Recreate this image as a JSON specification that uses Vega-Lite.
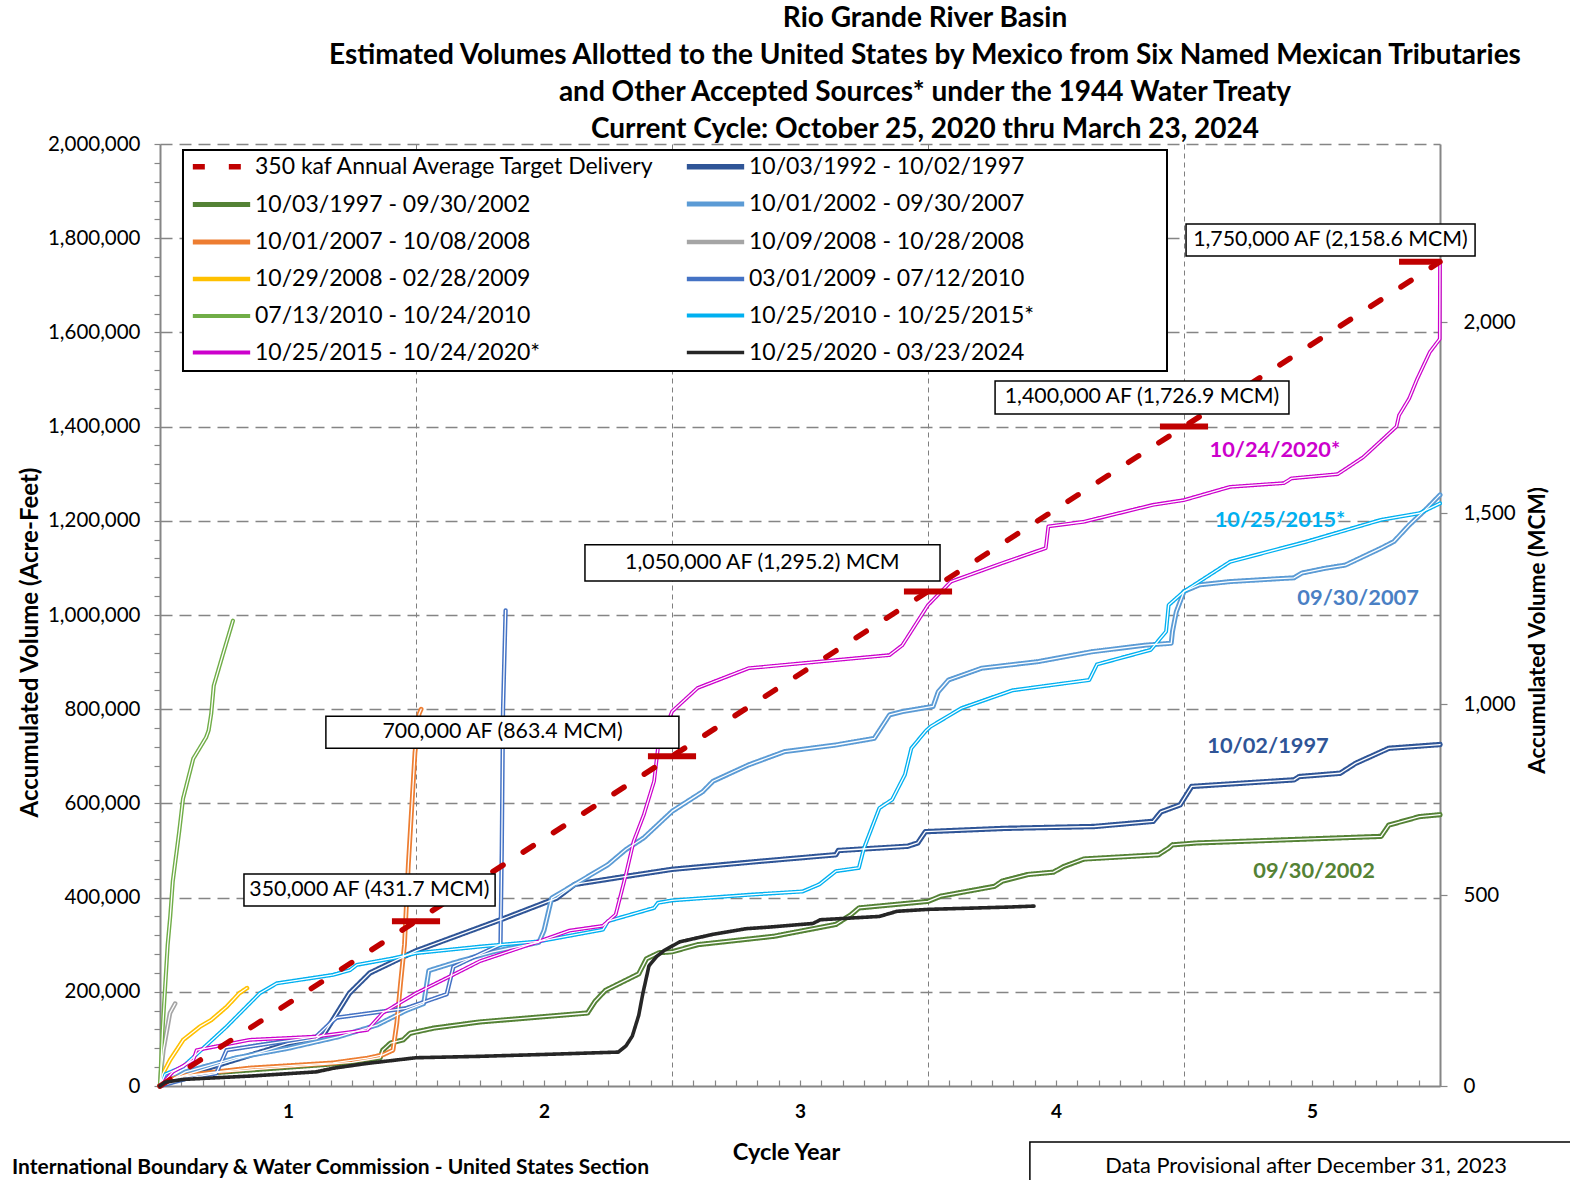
{
  "$schema": "https://vega.github.io/schema/vega-lite/v6.json",
  "width": 1280,
  "height": 942,
  "autosize": {"type": "none"},
  "padding": {"left": 160, "top": 144, "right": 130, "bottom": 94},
  "background": "white",
  "config": {
    "font": "Lato",
    "view": {"stroke": null},
    "legend": {
      "orient": "none", "legendX": 40, "legendY": 1, "direction": "horizontal", "columns": 2,
      "columnPadding": 20, "rowPadding": 4, "symbolType": "M-1.55,0H1.55", "symbolSize": 1369,
      "labelFontSize": 23, "labelColor": "#000", "labelFont": "Lato", "labelOffset": 12, "labelLimit": 600,
      "title": null, "padding": 0, "gridAlign": "each"
    }
  },
  "title": {
    "text": ["Rio Grande River Basin", "Estimated Volumes Allotted to the United States by Mexico from Six Named Mexican Tributaries", "and Other Accepted Sources* under the 1944 Water Treaty", "Current Cycle: October 25, 2020 thru March 23, 2024"],
    "fontSize": 28, "font": "Lato", "fontWeight": "bold", "color": "#000", "anchor": "middle", "dx": 125, "dy": 10, "lineHeight": 37, "offset": 0
  },
  "datasets": {
    "lines": [
      {"series": "350 kaf Annual Average Target Delivery", "year": 0, "af": 0},
      {"series": "350 kaf Annual Average Target Delivery", "year": 5, "af": 1750000},

      {"series": "10/03/1992 - 10/02/1997", "year": 0, "af": 0},
      {"series": "10/03/1992 - 10/02/1997", "year": 0.05, "af": 15000},
      {"series": "10/03/1992 - 10/02/1997", "year": 0.2, "af": 40000},
      {"series": "10/03/1992 - 10/02/1997", "year": 0.35, "af": 65000},
      {"series": "10/03/1992 - 10/02/1997", "year": 0.5, "af": 90000},
      {"series": "10/03/1992 - 10/02/1997", "year": 0.61, "af": 100000},
      {"series": "10/03/1992 - 10/02/1997", "year": 0.64, "af": 110000},
      {"series": "10/03/1992 - 10/02/1997", "year": 0.74, "af": 197000},
      {"series": "10/03/1992 - 10/02/1997", "year": 0.82, "af": 240000},
      {"series": "10/03/1992 - 10/02/1997", "year": 0.9, "af": 261000},
      {"series": "10/03/1992 - 10/02/1997", "year": 1.0, "af": 287000},
      {"series": "10/03/1992 - 10/02/1997", "year": 1.34, "af": 355000},
      {"series": "10/03/1992 - 10/02/1997", "year": 1.55, "af": 399000},
      {"series": "10/03/1992 - 10/02/1997", "year": 1.62, "af": 428000},
      {"series": "10/03/1992 - 10/02/1997", "year": 1.82, "af": 445000},
      {"series": "10/03/1992 - 10/02/1997", "year": 2.0, "af": 460000},
      {"series": "10/03/1992 - 10/02/1997", "year": 2.3, "af": 475000},
      {"series": "10/03/1992 - 10/02/1997", "year": 2.64, "af": 491000},
      {"series": "10/03/1992 - 10/02/1997", "year": 2.65, "af": 500000},
      {"series": "10/03/1992 - 10/02/1997", "year": 2.92, "af": 509000},
      {"series": "10/03/1992 - 10/02/1997", "year": 2.96, "af": 516000},
      {"series": "10/03/1992 - 10/02/1997", "year": 2.99, "af": 540000},
      {"series": "10/03/1992 - 10/02/1997", "year": 3.3, "af": 547000},
      {"series": "10/03/1992 - 10/02/1997", "year": 3.65, "af": 551000},
      {"series": "10/03/1992 - 10/02/1997", "year": 3.88, "af": 562000},
      {"series": "10/03/1992 - 10/02/1997", "year": 3.91, "af": 582000},
      {"series": "10/03/1992 - 10/02/1997", "year": 3.985, "af": 597000},
      {"series": "10/03/1992 - 10/02/1997", "year": 4.03, "af": 636000},
      {"series": "10/03/1992 - 10/02/1997", "year": 4.43, "af": 650000},
      {"series": "10/03/1992 - 10/02/1997", "year": 4.45, "af": 657000},
      {"series": "10/03/1992 - 10/02/1997", "year": 4.61, "af": 664000},
      {"series": "10/03/1992 - 10/02/1997", "year": 4.67, "af": 685000},
      {"series": "10/03/1992 - 10/02/1997", "year": 4.8, "af": 717000},
      {"series": "10/03/1992 - 10/02/1997", "year": 5.0, "af": 725000},

      {"series": "10/03/1997 - 09/30/2002", "year": 0, "af": 0},
      {"series": "10/03/1997 - 09/30/2002", "year": 0.05, "af": 15000},
      {"series": "10/03/1997 - 09/30/2002", "year": 0.2, "af": 28000},
      {"series": "10/03/1997 - 09/30/2002", "year": 0.5, "af": 40000},
      {"series": "10/03/1997 - 09/30/2002", "year": 0.75, "af": 50000},
      {"series": "10/03/1997 - 09/30/2002", "year": 0.86, "af": 60000},
      {"series": "10/03/1997 - 09/30/2002", "year": 0.87, "af": 76000},
      {"series": "10/03/1997 - 09/30/2002", "year": 0.9, "af": 91000},
      {"series": "10/03/1997 - 09/30/2002", "year": 0.95, "af": 98000},
      {"series": "10/03/1997 - 09/30/2002", "year": 0.977, "af": 112000},
      {"series": "10/03/1997 - 09/30/2002", "year": 1.07, "af": 123000},
      {"series": "10/03/1997 - 09/30/2002", "year": 1.25, "af": 136000},
      {"series": "10/03/1997 - 09/30/2002", "year": 1.67, "af": 155000},
      {"series": "10/03/1997 - 09/30/2002", "year": 1.7, "af": 180000},
      {"series": "10/03/1997 - 09/30/2002", "year": 1.74, "af": 203000},
      {"series": "10/03/1997 - 09/30/2002", "year": 1.87, "af": 238000},
      {"series": "10/03/1997 - 09/30/2002", "year": 1.9, "af": 270000},
      {"series": "10/03/1997 - 09/30/2002", "year": 1.95, "af": 283000},
      {"series": "10/03/1997 - 09/30/2002", "year": 2.0, "af": 285000},
      {"series": "10/03/1997 - 09/30/2002", "year": 2.1, "af": 300000},
      {"series": "10/03/1997 - 09/30/2002", "year": 2.4, "af": 318000},
      {"series": "10/03/1997 - 09/30/2002", "year": 2.64, "af": 343000},
      {"series": "10/03/1997 - 09/30/2002", "year": 2.7, "af": 364000},
      {"series": "10/03/1997 - 09/30/2002", "year": 2.73, "af": 378000},
      {"series": "10/03/1997 - 09/30/2002", "year": 3.0, "af": 392000},
      {"series": "10/03/1997 - 09/30/2002", "year": 3.05, "af": 403000},
      {"series": "10/03/1997 - 09/30/2002", "year": 3.26, "af": 424000},
      {"series": "10/03/1997 - 09/30/2002", "year": 3.29, "af": 435000},
      {"series": "10/03/1997 - 09/30/2002", "year": 3.39, "af": 449000},
      {"series": "10/03/1997 - 09/30/2002", "year": 3.49, "af": 454000},
      {"series": "10/03/1997 - 09/30/2002", "year": 3.53, "af": 466000},
      {"series": "10/03/1997 - 09/30/2002", "year": 3.61, "af": 482000},
      {"series": "10/03/1997 - 09/30/2002", "year": 3.9, "af": 491000},
      {"series": "10/03/1997 - 09/30/2002", "year": 3.94, "af": 505000},
      {"series": "10/03/1997 - 09/30/2002", "year": 3.955, "af": 512000},
      {"series": "10/03/1997 - 09/30/2002", "year": 4.05, "af": 516000},
      {"series": "10/03/1997 - 09/30/2002", "year": 4.77, "af": 530000},
      {"series": "10/03/1997 - 09/30/2002", "year": 4.8, "af": 554000},
      {"series": "10/03/1997 - 09/30/2002", "year": 4.92, "af": 572000},
      {"series": "10/03/1997 - 09/30/2002", "year": 5.0, "af": 576000},

      {"series": "10/01/2002 - 09/30/2007", "year": 0, "af": 0},
      {"series": "10/01/2002 - 09/30/2007", "year": 0.1, "af": 30000},
      {"series": "10/01/2002 - 09/30/2007", "year": 0.3, "af": 60000},
      {"series": "10/01/2002 - 09/30/2007", "year": 0.5, "af": 80000},
      {"series": "10/01/2002 - 09/30/2007", "year": 0.7, "af": 105000},
      {"series": "10/01/2002 - 09/30/2007", "year": 0.85, "af": 130000},
      {"series": "10/01/2002 - 09/30/2007", "year": 0.96, "af": 160000},
      {"series": "10/01/2002 - 09/30/2007", "year": 1.03, "af": 175000},
      {"series": "10/01/2002 - 09/30/2007", "year": 1.05, "af": 245000},
      {"series": "10/01/2002 - 09/30/2007", "year": 1.15, "af": 262000},
      {"series": "10/01/2002 - 09/30/2007", "year": 1.3, "af": 285000},
      {"series": "10/01/2002 - 09/30/2007", "year": 1.48, "af": 305000},
      {"series": "10/01/2002 - 09/30/2007", "year": 1.5, "af": 330000},
      {"series": "10/01/2002 - 09/30/2007", "year": 1.53, "af": 399000},
      {"series": "10/01/2002 - 09/30/2007", "year": 1.62, "af": 428000},
      {"series": "10/01/2002 - 09/30/2007", "year": 1.75, "af": 470000},
      {"series": "10/01/2002 - 09/30/2007", "year": 1.82, "af": 502000},
      {"series": "10/01/2002 - 09/30/2007", "year": 1.89, "af": 527000},
      {"series": "10/01/2002 - 09/30/2007", "year": 2.0, "af": 583000},
      {"series": "10/01/2002 - 09/30/2007", "year": 2.12, "af": 625000},
      {"series": "10/01/2002 - 09/30/2007", "year": 2.16, "af": 647000},
      {"series": "10/01/2002 - 09/30/2007", "year": 2.3, "af": 682000},
      {"series": "10/01/2002 - 09/30/2007", "year": 2.44, "af": 710000},
      {"series": "10/01/2002 - 09/30/2007", "year": 2.64, "af": 724000},
      {"series": "10/01/2002 - 09/30/2007", "year": 2.79, "af": 738000},
      {"series": "10/01/2002 - 09/30/2007", "year": 2.85, "af": 788000},
      {"series": "10/01/2002 - 09/30/2007", "year": 2.9, "af": 795000},
      {"series": "10/01/2002 - 09/30/2007", "year": 3.02, "af": 806000},
      {"series": "10/01/2002 - 09/30/2007", "year": 3.04, "af": 837000},
      {"series": "10/01/2002 - 09/30/2007", "year": 3.08, "af": 862000},
      {"series": "10/01/2002 - 09/30/2007", "year": 3.21, "af": 887000},
      {"series": "10/01/2002 - 09/30/2007", "year": 3.43, "af": 901000},
      {"series": "10/01/2002 - 09/30/2007", "year": 3.64, "af": 922000},
      {"series": "10/01/2002 - 09/30/2007", "year": 3.85, "af": 936000},
      {"series": "10/01/2002 - 09/30/2007", "year": 3.95, "af": 940000},
      {"series": "10/01/2002 - 09/30/2007", "year": 3.955, "af": 965000},
      {"series": "10/01/2002 - 09/30/2007", "year": 3.97, "af": 1007000},
      {"series": "10/01/2002 - 09/30/2007", "year": 4.0, "af": 1050000},
      {"series": "10/01/2002 - 09/30/2007", "year": 4.06, "af": 1064000},
      {"series": "10/01/2002 - 09/30/2007", "year": 4.18, "af": 1071000},
      {"series": "10/01/2002 - 09/30/2007", "year": 4.43, "af": 1079000},
      {"series": "10/01/2002 - 09/30/2007", "year": 4.46, "af": 1089000},
      {"series": "10/01/2002 - 09/30/2007", "year": 4.55, "af": 1099000},
      {"series": "10/01/2002 - 09/30/2007", "year": 4.63, "af": 1106000},
      {"series": "10/01/2002 - 09/30/2007", "year": 4.7, "af": 1124000},
      {"series": "10/01/2002 - 09/30/2007", "year": 4.77, "af": 1142000},
      {"series": "10/01/2002 - 09/30/2007", "year": 4.82, "af": 1156000},
      {"series": "10/01/2002 - 09/30/2007", "year": 4.88, "af": 1191000},
      {"series": "10/01/2002 - 09/30/2007", "year": 4.95, "af": 1227000},
      {"series": "10/01/2002 - 09/30/2007", "year": 5.0, "af": 1255000},

      {"series": "10/01/2007 - 10/08/2008", "year": 0, "af": 0},
      {"series": "10/01/2007 - 10/08/2008", "year": 0.03, "af": 12000},
      {"series": "10/01/2007 - 10/08/2008", "year": 0.1, "af": 22000},
      {"series": "10/01/2007 - 10/08/2008", "year": 0.22, "af": 30000},
      {"series": "10/01/2007 - 10/08/2008", "year": 0.35, "af": 38000},
      {"series": "10/01/2007 - 10/08/2008", "year": 0.676, "af": 49000},
      {"series": "10/01/2007 - 10/08/2008", "year": 0.81, "af": 59000},
      {"series": "10/01/2007 - 10/08/2008", "year": 0.87, "af": 66000},
      {"series": "10/01/2007 - 10/08/2008", "year": 0.91, "af": 76000},
      {"series": "10/01/2007 - 10/08/2008", "year": 0.925, "af": 133000},
      {"series": "10/01/2007 - 10/08/2008", "year": 0.94, "af": 220000},
      {"series": "10/01/2007 - 10/08/2008", "year": 0.955, "af": 300000},
      {"series": "10/01/2007 - 10/08/2008", "year": 0.97, "af": 469000},
      {"series": "10/01/2007 - 10/08/2008", "year": 0.996, "af": 708000},
      {"series": "10/01/2007 - 10/08/2008", "year": 1.012, "af": 790000},
      {"series": "10/01/2007 - 10/08/2008", "year": 1.02, "af": 800000},

      {"series": "10/09/2008 - 10/28/2008", "year": 0, "af": 0},
      {"series": "10/09/2008 - 10/28/2008", "year": 0.006, "af": 40000},
      {"series": "10/09/2008 - 10/28/2008", "year": 0.013, "af": 76000},
      {"series": "10/09/2008 - 10/28/2008", "year": 0.039, "af": 155000},
      {"series": "10/09/2008 - 10/28/2008", "year": 0.059, "af": 175000},

      {"series": "10/29/2008 - 02/28/2009", "year": 0, "af": 0},
      {"series": "10/29/2008 - 02/28/2009", "year": 0.01, "af": 25000},
      {"series": "10/29/2008 - 02/28/2009", "year": 0.039, "af": 55000},
      {"series": "10/29/2008 - 02/28/2009", "year": 0.091, "af": 98000},
      {"series": "10/29/2008 - 02/28/2009", "year": 0.156, "af": 126000},
      {"series": "10/29/2008 - 02/28/2009", "year": 0.2, "af": 140000},
      {"series": "10/29/2008 - 02/28/2009", "year": 0.26, "af": 168000},
      {"series": "10/29/2008 - 02/28/2009", "year": 0.31, "af": 197000},
      {"series": "10/29/2008 - 02/28/2009", "year": 0.34, "af": 208000},

      {"series": "03/01/2009 - 07/12/2010", "year": 0, "af": 0},
      {"series": "03/01/2009 - 07/12/2010", "year": 0.1, "af": 15000},
      {"series": "03/01/2009 - 07/12/2010", "year": 0.22, "af": 27000},
      {"series": "03/01/2009 - 07/12/2010", "year": 0.26, "af": 76000},
      {"series": "03/01/2009 - 07/12/2010", "year": 0.4, "af": 88000},
      {"series": "03/01/2009 - 07/12/2010", "year": 0.61, "af": 105000},
      {"series": "03/01/2009 - 07/12/2010", "year": 0.664, "af": 133000},
      {"series": "03/01/2009 - 07/12/2010", "year": 0.69, "af": 145000},
      {"series": "03/01/2009 - 07/12/2010", "year": 0.96, "af": 165000},
      {"series": "03/01/2009 - 07/12/2010", "year": 1.12, "af": 195000},
      {"series": "03/01/2009 - 07/12/2010", "year": 1.146, "af": 253000},
      {"series": "03/01/2009 - 07/12/2010", "year": 1.25, "af": 280000},
      {"series": "03/01/2009 - 07/12/2010", "year": 1.33, "af": 300000},
      {"series": "03/01/2009 - 07/12/2010", "year": 1.335, "af": 500000},
      {"series": "03/01/2009 - 07/12/2010", "year": 1.34, "af": 800000},
      {"series": "03/01/2009 - 07/12/2010", "year": 1.35, "af": 1010000},

      {"series": "07/13/2010 - 10/24/2010", "year": 0, "af": 0},
      {"series": "07/13/2010 - 10/24/2010", "year": 0.01, "af": 120000},
      {"series": "07/13/2010 - 10/24/2010", "year": 0.02, "af": 210000},
      {"series": "07/13/2010 - 10/24/2010", "year": 0.03, "af": 300000},
      {"series": "07/13/2010 - 10/24/2010", "year": 0.04, "af": 360000},
      {"series": "07/13/2010 - 10/24/2010", "year": 0.05, "af": 435000},
      {"series": "07/13/2010 - 10/24/2010", "year": 0.075, "af": 540000},
      {"series": "07/13/2010 - 10/24/2010", "year": 0.09, "af": 610000},
      {"series": "07/13/2010 - 10/24/2010", "year": 0.13, "af": 695000},
      {"series": "07/13/2010 - 10/24/2010", "year": 0.18, "af": 740000},
      {"series": "07/13/2010 - 10/24/2010", "year": 0.19, "af": 755000},
      {"series": "07/13/2010 - 10/24/2010", "year": 0.2, "af": 790000},
      {"series": "07/13/2010 - 10/24/2010", "year": 0.21, "af": 850000},
      {"series": "07/13/2010 - 10/24/2010", "year": 0.245, "af": 915000},
      {"series": "07/13/2010 - 10/24/2010", "year": 0.285, "af": 988000},

      {"series": "10/25/2010 - 10/25/2015*", "year": 0, "af": 0},
      {"series": "10/25/2010 - 10/25/2015*", "year": 0.02, "af": 25000},
      {"series": "10/25/2010 - 10/25/2015*", "year": 0.09, "af": 41000},
      {"series": "10/25/2010 - 10/25/2015*", "year": 0.26, "af": 126000},
      {"series": "10/25/2010 - 10/25/2015*", "year": 0.39, "af": 197000},
      {"series": "10/25/2010 - 10/25/2015*", "year": 0.456, "af": 218000},
      {"series": "10/25/2010 - 10/25/2015*", "year": 0.676, "af": 236000},
      {"series": "10/25/2010 - 10/25/2015*", "year": 0.742, "af": 246000},
      {"series": "10/25/2010 - 10/25/2015*", "year": 0.768, "af": 257000},
      {"series": "10/25/2010 - 10/25/2015*", "year": 0.91, "af": 271000},
      {"series": "10/25/2010 - 10/25/2015*", "year": 1.0, "af": 282000},
      {"series": "10/25/2010 - 10/25/2015*", "year": 1.25, "af": 296000},
      {"series": "10/25/2010 - 10/25/2015*", "year": 1.48, "af": 307000},
      {"series": "10/25/2010 - 10/25/2015*", "year": 1.73, "af": 332000},
      {"series": "10/25/2010 - 10/25/2015*", "year": 1.75, "af": 350000},
      {"series": "10/25/2010 - 10/25/2015*", "year": 1.93, "af": 378000},
      {"series": "10/25/2010 - 10/25/2015*", "year": 1.945, "af": 389000},
      {"series": "10/25/2010 - 10/25/2015*", "year": 2.0, "af": 394000},
      {"series": "10/25/2010 - 10/25/2015*", "year": 2.3, "af": 406000},
      {"series": "10/25/2010 - 10/25/2015*", "year": 2.51, "af": 413000},
      {"series": "10/25/2010 - 10/25/2015*", "year": 2.575, "af": 428000},
      {"series": "10/25/2010 - 10/25/2015*", "year": 2.64, "af": 456000},
      {"series": "10/25/2010 - 10/25/2015*", "year": 2.73, "af": 463000},
      {"series": "10/25/2010 - 10/25/2015*", "year": 2.75, "af": 505000},
      {"series": "10/25/2010 - 10/25/2015*", "year": 2.81, "af": 590000},
      {"series": "10/25/2010 - 10/25/2015*", "year": 2.86, "af": 608000},
      {"series": "10/25/2010 - 10/25/2015*", "year": 2.91, "af": 661000},
      {"series": "10/25/2010 - 10/25/2015*", "year": 2.935, "af": 717000},
      {"series": "10/25/2010 - 10/25/2015*", "year": 2.99, "af": 753000},
      {"series": "10/25/2010 - 10/25/2015*", "year": 3.01, "af": 763000},
      {"series": "10/25/2010 - 10/25/2015*", "year": 3.13, "af": 802000},
      {"series": "10/25/2010 - 10/25/2015*", "year": 3.33, "af": 840000},
      {"series": "10/25/2010 - 10/25/2015*", "year": 3.63, "af": 862000},
      {"series": "10/25/2010 - 10/25/2015*", "year": 3.66, "af": 895000},
      {"series": "10/25/2010 - 10/25/2015*", "year": 3.87, "af": 926000},
      {"series": "10/25/2010 - 10/25/2015*", "year": 3.93, "af": 965000},
      {"series": "10/25/2010 - 10/25/2015*", "year": 3.94, "af": 1021000},
      {"series": "10/25/2010 - 10/25/2015*", "year": 4.0, "af": 1050000},
      {"series": "10/25/2010 - 10/25/2015*", "year": 4.18, "af": 1113000},
      {"series": "10/25/2010 - 10/25/2015*", "year": 4.48, "af": 1156000},
      {"series": "10/25/2010 - 10/25/2015*", "year": 4.77, "af": 1202000},
      {"series": "10/25/2010 - 10/25/2015*", "year": 4.92, "af": 1216000},
      {"series": "10/25/2010 - 10/25/2015*", "year": 5.0, "af": 1237000},

      {"series": "10/25/2015 - 10/24/2020*", "year": 0, "af": 0},
      {"series": "10/25/2015 - 10/24/2020*", "year": 0.05, "af": 30000},
      {"series": "10/25/2015 - 10/24/2020*", "year": 0.13, "af": 55000},
      {"series": "10/25/2015 - 10/24/2020*", "year": 0.143, "af": 76000},
      {"series": "10/25/2015 - 10/24/2020*", "year": 0.35, "af": 98000},
      {"series": "10/25/2015 - 10/24/2020*", "year": 0.61, "af": 105000},
      {"series": "10/25/2015 - 10/24/2020*", "year": 0.81, "af": 119000},
      {"series": "10/25/2015 - 10/24/2020*", "year": 0.87, "af": 155000},
      {"series": "10/25/2015 - 10/24/2020*", "year": 1.0, "af": 197000},
      {"series": "10/25/2015 - 10/24/2020*", "year": 1.13, "af": 232000},
      {"series": "10/25/2015 - 10/24/2020*", "year": 1.25, "af": 265000},
      {"series": "10/25/2015 - 10/24/2020*", "year": 1.48, "af": 307000},
      {"series": "10/25/2015 - 10/24/2020*", "year": 1.6, "af": 330000},
      {"series": "10/25/2015 - 10/24/2020*", "year": 1.73, "af": 340000},
      {"series": "10/25/2015 - 10/24/2020*", "year": 1.78, "af": 364000},
      {"series": "10/25/2015 - 10/24/2020*", "year": 1.82, "af": 449000},
      {"series": "10/25/2015 - 10/24/2020*", "year": 1.85, "af": 519000},
      {"series": "10/25/2015 - 10/24/2020*", "year": 1.89, "af": 576000},
      {"series": "10/25/2015 - 10/24/2020*", "year": 1.93, "af": 647000},
      {"series": "10/25/2015 - 10/24/2020*", "year": 1.945, "af": 717000},
      {"series": "10/25/2015 - 10/24/2020*", "year": 2.0, "af": 795000},
      {"series": "10/25/2015 - 10/24/2020*", "year": 2.1, "af": 845000},
      {"series": "10/25/2015 - 10/24/2020*", "year": 2.3, "af": 887000},
      {"series": "10/25/2015 - 10/24/2020*", "year": 2.575, "af": 901000},
      {"series": "10/25/2015 - 10/24/2020*", "year": 2.85, "af": 915000},
      {"series": "10/25/2015 - 10/24/2020*", "year": 2.9, "af": 936000},
      {"series": "10/25/2015 - 10/24/2020*", "year": 3.0, "af": 1021000},
      {"series": "10/25/2015 - 10/24/2020*", "year": 3.09, "af": 1071000},
      {"series": "10/25/2015 - 10/24/2020*", "year": 3.29, "af": 1110000},
      {"series": "10/25/2015 - 10/24/2020*", "year": 3.46, "af": 1142000},
      {"series": "10/25/2015 - 10/24/2020*", "year": 3.47, "af": 1188000},
      {"series": "10/25/2015 - 10/24/2020*", "year": 3.61, "af": 1198000},
      {"series": "10/25/2015 - 10/24/2020*", "year": 3.88, "af": 1234000},
      {"series": "10/25/2015 - 10/24/2020*", "year": 4.0, "af": 1244000},
      {"series": "10/25/2015 - 10/24/2020*", "year": 4.18, "af": 1272000},
      {"series": "10/25/2015 - 10/24/2020*", "year": 4.39, "af": 1280000},
      {"series": "10/25/2015 - 10/24/2020*", "year": 4.42, "af": 1290000},
      {"series": "10/25/2015 - 10/24/2020*", "year": 4.6, "af": 1299000},
      {"series": "10/25/2015 - 10/24/2020*", "year": 4.7, "af": 1335000},
      {"series": "10/25/2015 - 10/24/2020*", "year": 4.78, "af": 1375000},
      {"series": "10/25/2015 - 10/24/2020*", "year": 4.83, "af": 1400000},
      {"series": "10/25/2015 - 10/24/2020*", "year": 4.84, "af": 1424000},
      {"series": "10/25/2015 - 10/24/2020*", "year": 4.88, "af": 1460000},
      {"series": "10/25/2015 - 10/24/2020*", "year": 4.91, "af": 1500000},
      {"series": "10/25/2015 - 10/24/2020*", "year": 4.96, "af": 1558000},
      {"series": "10/25/2015 - 10/24/2020*", "year": 4.999, "af": 1586000},
      {"series": "10/25/2015 - 10/24/2020*", "year": 5.0, "af": 1750000},

      {"series": "10/25/2020 - 03/23/2024", "year": 0, "af": 0},
      {"series": "10/25/2020 - 03/23/2024", "year": 0.02, "af": 8000},
      {"series": "10/25/2020 - 03/23/2024", "year": 0.09, "af": 14000},
      {"series": "10/25/2020 - 03/23/2024", "year": 0.35, "af": 21000},
      {"series": "10/25/2020 - 03/23/2024", "year": 0.61, "af": 30000},
      {"series": "10/25/2020 - 03/23/2024", "year": 0.68, "af": 38000},
      {"series": "10/25/2020 - 03/23/2024", "year": 0.81, "af": 48000},
      {"series": "10/25/2020 - 03/23/2024", "year": 1.0, "af": 60000},
      {"series": "10/25/2020 - 03/23/2024", "year": 1.25, "af": 63000},
      {"series": "10/25/2020 - 03/23/2024", "year": 1.5, "af": 67000},
      {"series": "10/25/2020 - 03/23/2024", "year": 1.79, "af": 72000},
      {"series": "10/25/2020 - 03/23/2024", "year": 1.82, "af": 85000},
      {"series": "10/25/2020 - 03/23/2024", "year": 1.845, "af": 106000},
      {"series": "10/25/2020 - 03/23/2024", "year": 1.87, "af": 150000},
      {"series": "10/25/2020 - 03/23/2024", "year": 1.886, "af": 196000},
      {"series": "10/25/2020 - 03/23/2024", "year": 1.91, "af": 255000},
      {"series": "10/25/2020 - 03/23/2024", "year": 1.94, "af": 275000},
      {"series": "10/25/2020 - 03/23/2024", "year": 1.97, "af": 288000},
      {"series": "10/25/2020 - 03/23/2024", "year": 2.03, "af": 306000},
      {"series": "10/25/2020 - 03/23/2024", "year": 2.16, "af": 322000},
      {"series": "10/25/2020 - 03/23/2024", "year": 2.29, "af": 334000},
      {"series": "10/25/2020 - 03/23/2024", "year": 2.37, "af": 337000},
      {"series": "10/25/2020 - 03/23/2024", "year": 2.55, "af": 345000},
      {"series": "10/25/2020 - 03/23/2024", "year": 2.58, "af": 353000},
      {"series": "10/25/2020 - 03/23/2024", "year": 2.81, "af": 360000},
      {"series": "10/25/2020 - 03/23/2024", "year": 2.88, "af": 371000},
      {"series": "10/25/2020 - 03/23/2024", "year": 3.0, "af": 375000},
      {"series": "10/25/2020 - 03/23/2024", "year": 3.32, "af": 380000},
      {"series": "10/25/2020 - 03/23/2024", "year": 3.414, "af": 382000}
    ],
    "targets": [
      {"from": 0.906, "to": 1.094, "af": 350000},
      {"from": 1.906, "to": 2.094, "af": 700000},
      {"from": 2.906, "to": 3.094, "af": 1050000},
      {"from": 3.906, "to": 4.094, "af": 1400000},
      {"from": 4.84, "to": 5.0, "af": 1750000}
    ],
    "notes": [
      {"label": "350,000 AF (431.7 MCM)", "x1": 0.328, "x2": 1.309, "y1": 450000, "y2": 382000, "xc": 0.818, "yc": 416000},
      {"label": "700,000 AF (863.4 MCM)", "x1": 0.648, "x2": 2.027, "y1": 785000, "y2": 717000, "xc": 1.338, "yc": 751000},
      {"label": "1,050,000 AF (1,295.2) MCM", "x1": 1.66, "x2": 3.047, "y1": 1149000, "y2": 1072000, "xc": 2.353, "yc": 1110000},
      {"label": "1,400,000  AF (1,726.9 MCM)", "x1": 3.262, "x2": 4.41, "y1": 1497000, "y2": 1427000, "xc": 3.836, "yc": 1462000},
      {"label": "1,750,000 AF (2,158.6 MCM)", "x1": 4.008, "x2": 5.137, "y1": 1830000, "y2": 1762000, "xc": 4.572, "yc": 1796000}
    ],
    "endlabels": [
      {"label": "10/24/2020*", "series": "10/25/2015 - 10/24/2020*", "year": 4.355, "af": 1350000},
      {"label": "10/25/2015*", "series": "10/25/2010 - 10/25/2015*", "year": 4.375, "af": 1202000},
      {"label": "09/30/2007", "series": "10/01/2002 - 09/30/2007", "year": 4.68, "af": 1036000},
      {"label": "10/02/1997", "series": "10/03/1992 - 10/02/1997", "year": 4.328, "af": 722000},
      {"label": "09/30/2002", "series": "10/03/1997 - 09/30/2002", "year": 4.508, "af": 456000}
    ]
  },
  "layer": [
    {
      "layer": [
        {
          "data": {"name": "lines"},
          "transform": [{"filter": {"not": {"field": "series", "oneOf": ["350 kaf Annual Average Target Delivery", "10/25/2020 - 03/23/2024"]}}}],
          "mark": {"type": "line", "strokeJoin": "round", "strokeCap": "round"},
          "encoding": {
            "x": {
              "field": "year", "type": "quantitative",
              "scale": {"domain": [0, 5], "nice": false, "zero": false},
              "axis": {
                "values": [0, 0.083333, 0.166667, 0.25, 0.333333, 0.416667, 0.5, 0.583333, 0.666667, 0.75, 0.833333, 0.916667, 1, 1.083333, 1.166667, 1.25, 1.333333, 1.416667, 1.5, 1.583333, 1.666667, 1.75, 1.833333, 1.916667, 2, 2.083333, 2.166667, 2.25, 2.333333, 2.416667, 2.5, 2.583333, 2.666667, 2.75, 2.833333, 2.916667, 3, 3.083333, 3.166667, 3.25, 3.333333, 3.416667, 3.5, 3.583333, 3.666667, 3.75, 3.833333, 3.916667, 4, 4.083333, 4.166667, 4.25, 4.333333, 4.416667, 4.5, 4.583333, 4.666667, 4.75, 4.833333, 4.916667, 5],
                "tickCount": 100,
                "labelExpr": "(abs(datum.value*2 - round(datum.value*2)) < 0.001 && abs(datum.value - round(datum.value)) > 0.1) ? format(ceil(datum.value), 'd') : ''",
                "labelFontSize": 19, "labelFontWeight": "bold", "labelColor": "#000", "labelPadding": 22, "labelOverlap": false, "labelFlush": false, "labelBound": false,
                "tickSize": -6, "tickColor": "#868686", "tickWidth": 1.2,
                "domainColor": "#868686", "domainWidth": 2,
                "grid": true, "gridColor": "#7f7f7f", "gridDash": [5, 4], "gridWidth": 1,
                "gridOpacity": {"condition": {"test": "abs(datum.value - round(datum.value)) < 0.001 && datum.value > 0.5 && datum.value < 4.5", "value": 1}, "value": 0},
                "title": "Cycle Year", "titleFontSize": 23.5, "titleFontWeight": "bold", "titleColor": "#000", "titleX": 626, "titleY": 66, "titleBaseline": "middle", "titleAlign": "center"
              }
            },
            "y": {
              "field": "af", "type": "quantitative",
              "scale": {"domain": [0, 2000000], "nice": false},
              "axis": {
                "values": [0, 40000, 80000, 120000, 160000, 200000, 240000, 280000, 320000, 360000, 400000, 440000, 480000, 520000, 560000, 600000, 640000, 680000, 720000, 760000, 800000, 840000, 880000, 920000, 960000, 1000000, 1040000, 1080000, 1120000, 1160000, 1200000, 1240000, 1280000, 1320000, 1360000, 1400000, 1440000, 1480000, 1520000, 1560000, 1600000, 1640000, 1680000, 1720000, 1760000, 1800000, 1840000, 1880000, 1920000, 1960000, 2000000],
                "tickCount": 100,
                "labelExpr": "datum.value % 200000 === 0 ? format(datum.value, ',') : ''",
                "labelFontSize": 20.5, "labelColor": "#000", "labelPadding": 14, "labelOverlap": false, "labelFlush": false, "labelBound": false,
                "tickSize": 6, "tickColor": "#868686", "tickWidth": 1.2,
                "domainColor": "#868686", "domainWidth": 2,
                "grid": true, "gridColor": "#858585", "gridDash": [12, 7], "gridWidth": 1.6,
                "gridOpacity": {"condition": {"test": "datum.value % 200000 === 0 && datum.value > 0", "value": 1}, "value": 0},
                "title": "Accumulated Volume (Acre-Feet)", "titleFontSize": 24, "titleFontWeight": "bold", "titleColor": "#000",
                "titleX": -130, "titleY": 498, "titleAngle": 270, "titleBaseline": "middle", "titleAlign": "center"
              }
            },
            "color": {
              "field": "series", "type": "nominal",
              "scale": {
                "domain": ["350 kaf Annual Average Target Delivery", "10/03/1992 - 10/02/1997", "10/03/1997 - 09/30/2002", "10/01/2002 - 09/30/2007", "10/01/2007 - 10/08/2008", "10/09/2008 - 10/28/2008", "10/29/2008 - 02/28/2009", "03/01/2009 - 07/12/2010", "07/13/2010 - 10/24/2010", "10/25/2010 - 10/25/2015*", "10/25/2015 - 10/24/2020*", "10/25/2020 - 03/23/2024"],
                "range": ["#C00000", "#2F5597", "#548235", "#5B9BD5", "#ED7D31", "#A5A5A5", "#FFC000", "#4472C4", "#70AD47", "#00B0F0", "#CC00CC", "#262626"]
              }
            },
            "strokeDash": {
              "field": "series", "type": "nominal",
              "scale": {
                "domain": ["350 kaf Annual Average Target Delivery", "10/03/1992 - 10/02/1997", "10/03/1997 - 09/30/2002", "10/01/2002 - 09/30/2007", "10/01/2007 - 10/08/2008", "10/09/2008 - 10/28/2008", "10/29/2008 - 02/28/2009", "03/01/2009 - 07/12/2010", "07/13/2010 - 10/24/2010", "10/25/2010 - 10/25/2015*", "10/25/2015 - 10/24/2020*", "10/25/2020 - 03/23/2024"],
                "range": [[12, 24], [1, 0], [1, 0], [1, 0], [1, 0], [1, 0], [1, 0], [1, 0], [1, 0], [1, 0], [1, 0], [1, 0]]
              }
            },
            "strokeWidth": {
              "field": "series", "type": "nominal",
              "scale": {
                "domain": ["350 kaf Annual Average Target Delivery", "10/03/1992 - 10/02/1997", "10/03/1997 - 09/30/2002", "10/01/2002 - 09/30/2007", "10/01/2007 - 10/08/2008", "10/09/2008 - 10/28/2008", "10/29/2008 - 02/28/2009", "03/01/2009 - 07/12/2010", "07/13/2010 - 10/24/2010", "10/25/2010 - 10/25/2015*", "10/25/2015 - 10/24/2020*", "10/25/2020 - 03/23/2024"],
                "range": [5.5, 3.6, 3.6, 3.6, 3.6, 3.6, 3.6, 3.6, 3.6, 3.6, 3.6, 5.5]
              }
            }
          }
        },
        {
          "data": {"name": "lines"},
          "transform": [{"filter": {"not": {"field": "series", "oneOf": ["350 kaf Annual Average Target Delivery", "10/25/2020 - 03/23/2024"]}}}],
          "mark": {"type": "line", "strokeJoin": "round", "strokeCap": "round", "color": "#ffffff", "strokeWidth": 1.3},
          "encoding": {
            "x": {"field": "year", "type": "quantitative"},
            "y": {"field": "af", "type": "quantitative"},
            "detail": {"field": "series", "type": "nominal"}
          }
        },
        {
          "data": {"name": "lines"},
          "transform": [{"filter": {"field": "series", "oneOf": ["350 kaf Annual Average Target Delivery", "10/25/2020 - 03/23/2024"]}}],
          "mark": {"type": "line", "strokeJoin": "round", "strokeCap": "round"},
          "encoding": {
            "x": {"field": "year", "type": "quantitative"},
            "y": {"field": "af", "type": "quantitative"},
            "color": {"field": "series", "type": "nominal"},
            "strokeDash": {"field": "series", "type": "nominal"},
            "strokeWidth": {"field": "series", "type": "nominal"}
          }
        },
        {
          "data": {"name": "targets"},
          "mark": {"type": "rule", "color": "#C00000", "strokeWidth": 6},
          "encoding": {
            "x": {"field": "from", "type": "quantitative"},
            "x2": {"field": "to"},
            "y": {"field": "af", "type": "quantitative"}
          }
        },
        {
          "data": {"name": "notes"},
          "mark": {"type": "rect", "fill": "#ffffff", "stroke": "#000000", "strokeWidth": 1.5},
          "encoding": {
            "x": {"field": "x1", "type": "quantitative"},
            "x2": {"field": "x2"},
            "y": {"field": "y1", "type": "quantitative"},
            "y2": {"field": "y2"}
          }
        },
        {
          "data": {"name": "notes"},
          "mark": {"type": "text", "fontSize": 21.3, "color": "#000", "align": "center", "baseline": "middle"},
          "encoding": {
            "x": {"field": "xc", "type": "quantitative"},
            "y": {"field": "yc", "type": "quantitative"},
            "text": {"field": "label"}
          }
        },
        {
          "data": {"name": "endlabels"},
          "mark": {"type": "text", "fontSize": 21.8, "fontWeight": "bold", "align": "center", "baseline": "middle"},
          "encoding": {
            "x": {"field": "year", "type": "quantitative"},
            "y": {"field": "af", "type": "quantitative"},
            "text": {"field": "label"},
            "fill": {
              "field": "series", "type": "nominal", "legend": null,
              "scale": {
                "domain": ["10/25/2015 - 10/24/2020*", "10/25/2010 - 10/25/2015*", "10/01/2002 - 09/30/2007", "10/03/1992 - 10/02/1997", "10/03/1997 - 09/30/2002"],
                "range": ["#CC00CC", "#00B0F0", "#4A80C4", "#2F5597", "#548235"]
              }
            }
          }
        },
        {
          "data": {"values": [{"k": 1}]},
          "mark": {"type": "rect", "fill": "#ffffff", "stroke": "#000000", "strokeWidth": 2},
          "encoding": {
            "x": {"datum": 0.0898, "type": "quantitative"},
            "x2": {"datum": 3.9336},
            "y": {"datum": 1987000, "type": "quantitative"},
            "y2": {"datum": 1518000}
          }
        },
        {
          "data": {"values": [{"k": 1}]},
          "mark": {"type": "text", "fontSize": 21, "fontWeight": "bold", "align": "left", "baseline": "middle", "color": "#000"},
          "encoding": {
            "x": {"datum": -0.578, "type": "quantitative"},
            "y": {"datum": -174000, "type": "quantitative"},
            "text": {"value": "International Boundary & Water Commission - United States Section"}
          }
        },
        {
          "data": {"values": [{"k": 1}]},
          "mark": {"type": "rect", "fill": "#ffffff", "stroke": "#000000", "strokeWidth": 1.5},
          "encoding": {
            "x": {"datum": 3.398, "type": "quantitative"},
            "x2": {"datum": 5.516},
            "y": {"datum": -119000, "type": "quantitative"},
            "y2": {"datum": -221000}
          }
        },
        {
          "data": {"values": [{"k": 1}]},
          "mark": {"type": "text", "fontSize": 21.8, "align": "center", "baseline": "middle", "color": "#000"},
          "encoding": {
            "x": {"datum": 4.477, "type": "quantitative"},
            "y": {"datum": -170000, "type": "quantitative"},
            "text": {"value": "Data Provisional after December 31, 2023"}
          }
        }
      ]
    },
    {
      "data": {"values": [{"mcm": 0}, {"mcm": 2466.96}]},
      "mark": {"type": "point", "opacity": 0},
      "encoding": {
        "y": {
          "field": "mcm", "type": "quantitative",
          "scale": {"domain": [0, 2466.96], "nice": false},
          "axis": {
            "orient": "right", "values": [0, 500, 1000, 1500, 2000], "format": ",.0f",
            "labelFontSize": 20.5, "labelColor": "#000", "labelPadding": 16, "labelOverlap": false, "labelFlush": false,
            "tickSize": 7, "tickColor": "#868686", "tickWidth": 1.2,
            "domainColor": "#868686", "domainWidth": 2, "grid": false,
            "title": "Accumulated Volume (MCM)", "titleFontSize": 22.5, "titleFontWeight": "bold", "titleColor": "#000",
            "titleX": 97, "titleY": 486, "titleAngle": 270, "titleBaseline": "middle", "titleAlign": "center"
          }
        }
      }
    }
  ],
  "resolve": {"scale": {"y": "independent"}}
}
